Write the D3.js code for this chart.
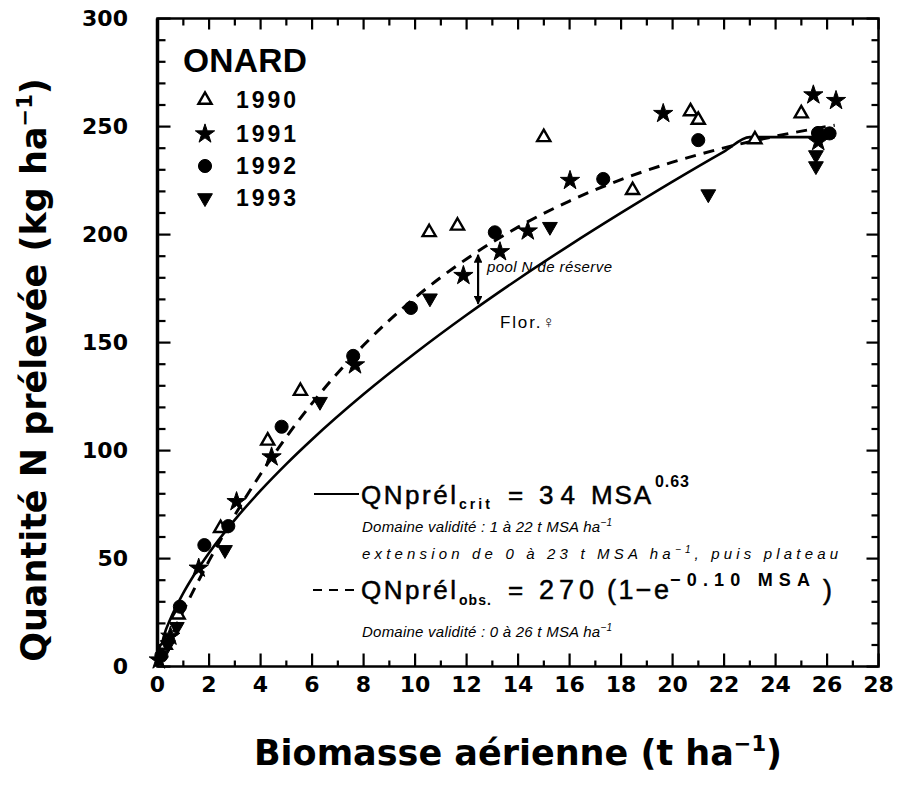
<!DOCTYPE html>
<html><head><meta charset="utf-8">
<script src="https://cdn.jsdelivr.net/npm/d3@7"></script>
<style>
html,body{margin:0;padding:0;background:#fff;}
svg{display:block;}
text{fill:#000;}
</style>
</head><body>
<svg id="chart" width="899" height="787"></svg>
<script>
// ---------- data ----------
const years = ["1990", "1991", "1992", "1993"];
const x1990 = [0.3, 0.8, 2.45, 4.28, 5.55, 10.55, 11.65, 15.0, 18.45, 20.7, 21.0, 23.2, 25.0];
const y1990 = [10, 24, 64, 104.5, 127.5, 201, 204, 245, 220.5, 257, 253, 244, 256];
const x1991 = [0.05, 0.5, 1.6, 3.07, 4.43, 7.67, 11.88, 13.3, 14.38, 16.02, 19.64, 25.47, 26.35, 25.66];
const y1991 = [3, 14, 45.5, 76.3, 97, 139.6, 181, 192, 201.6, 225, 256, 264.6, 262, 243];
const x1992 = [0.15, 0.87, 1.82, 2.75, 4.82, 7.6, 9.84, 13.1, 17.31, 21.0, 25.65, 26.1];
const y1992 = [5, 27.7, 56.2, 65, 111, 143.8, 166, 201, 225.7, 243.7, 247, 246.8];
const x1993 = [0.4, 0.75, 2.62, 6.31, 10.58, 15.24, 21.39, 25.57, 25.57];
const y1993 = [10, 18.4, 54, 122.6, 170.5, 203.6, 218.7, 236.8, 231.7];
const critX = [0, 0.25, 0.5, 1, 1.5, 2, 3, 4, 5, 6, 8, 10, 12, 14, 16, 18, 20, 22, 23, 26.3];
const critY = [0, 14.2, 22.0, 34, 43.9, 52.6, 67.9, 81.4, 93.7, 105.1, 126.0, 145.0, 162.7, 179.3, 195.0, 210.0, 224.5, 238.4, 245.1, 245.1];
const obsX = [0, 0.5, 1, 2, 3, 4, 5, 6, 8, 10, 12, 14, 16, 18, 20, 22, 24, 26.3];
const obsY = [0, 13.2, 25.7, 48.9, 70.0, 89.0, 106.2, 121.8, 148.7, 170.7, 188.7, 203.4, 215.5, 225.4, 233.5, 240.1, 245.5, 250.6];
const xTicks = [0, 2, 4, 6, 8, 10, 12, 14, 16, 18, 20, 22, 24, 26, 28];
const xMinorTicks = [1, 3, 5, 7, 9, 11, 13, 15, 17, 19, 21, 23, 25, 27];
const yTicks = [0, 50, 100, 150, 200, 250, 300];
const yMinorTicks = [10, 20, 30, 40, 60, 70, 80, 90, 110, 120, 130, 140, 160, 170, 180, 190, 210, 220, 230, 240, 260, 270, 280, 290];
// reserve pool arrow
const arrowX = [12.45];
const arrowY = [192, 166.5];

// ---------- layout ----------
const svg = d3.select("#chart");
const X0 = 157.5, X1 = 878.5, Y0 = 666.5, Y1 = 18.5;
const x = d3.scaleLinear().domain([0, 28]).range([X0, X1]);
const y = d3.scaleLinear().domain([0, 300]).range([Y0, Y1]);
const numFont = "'DejaVu Sans', sans-serif";
const arial = "'Liberation Sans', Arial, sans-serif";

function fit(sel, w) {
  const n = sel.text().length;
  const cur = sel.node().getComputedTextLength();
  sel.attr("letter-spacing", Math.max(-1, (w - cur) / Math.max(1, n - 1)));
  return sel;
}

// frame
svg.append("rect").attr("x", X0).attr("y", Y1).attr("width", X1 - X0).attr("height", Y0 - Y1)
  .attr("fill", "none").attr("stroke", "#000").attr("stroke-width", 2.5);
svg.append("rect").attr("x", X0 - 1.75).attr("y", Y1).attr("width", 3.5).attr("height", Y0 - Y1).attr("fill", "#000");

// inward tick marks on all four sides, as small filled bars placed by the scales
const tickG = svg.append("g");
function ticksX(vals, yTop, len) {
  tickG.append("g").selectAll("rect").data(vals).join("rect")
    .attr("x", d => x(d) - 1).attr("width", 2.2)
    .attr("y", yTop).attr("height", len).attr("fill", "#000");
}
function ticksY(vals, xLeft, len) {
  tickG.append("g").selectAll("rect").data(vals).join("rect")
    .attr("y", d => y(d) - 1).attr("height", 2.2)
    .attr("x", xLeft).attr("width", len).attr("fill", "#000");
}
ticksX(xTicks, Y0 - 13, 13); ticksX(xMinorTicks, Y0 - 6, 6);
ticksX(xTicks, Y1, 11); ticksX(xMinorTicks, Y1, 7);
ticksY(yTicks, X0, 13); ticksY(yMinorTicks, X0, 8);
ticksY(yTicks, X1 - 12, 12); ticksY(yMinorTicks, X1 - 7, 7);

// tick labels
svg.append("g").selectAll("text").data(xTicks).join("text")
  .attr("x", d => x(d)).attr("y", Y0 + 25).attr("text-anchor", "middle")
  .attr("font-family", numFont).attr("font-weight", "bold").attr("font-size", 22).text(d => d);
svg.append("g").selectAll("text").data(yTicks).join("text")
  .attr("x", 128).attr("y", d => y(d)).attr("dy", "0.36em").attr("text-anchor", "end")
  .attr("font-family", numFont).attr("font-weight", "bold").attr("font-size", 22).text(d => d);

// axis titles
const xt = svg.append("text").attr("x", 518).attr("y", 765).attr("text-anchor", "middle")
  .attr("font-family", numFont).attr("font-weight", "bold").attr("font-size", 35);
xt.append("tspan").text("Biomasse aérienne (t ha");
xt.append("tspan").text("−1").attr("font-size", 21).attr("dy", -14);
xt.append("tspan").text(")").attr("dy", 14);

const yt = svg.append("text").attr("transform", "translate(46,370) rotate(-90)").attr("text-anchor", "middle")
  .attr("font-family", numFont).attr("font-weight", "bold").attr("font-size", 35);
yt.append("tspan").text("Quantité N prélevée (kg ha");
yt.append("tspan").text("−1").attr("font-size", 21).attr("dy", -14);
yt.append("tspan").text(")").attr("dy", 14);

// curves
const line = d3.line().x(d => x(d[0])).y(d => y(d[1])).curve(d3.curveMonotoneX);
svg.append("path").datum(critX.map((v, i) => [v, critY[i]])).attr("d", line)
  .attr("fill", "none").attr("stroke", "#000").attr("stroke-width", 2.6);
svg.append("path").datum(obsX.map((v, i) => [v, obsY[i]])).attr("d", line)
  .attr("fill", "none").attr("stroke", "#000").attr("stroke-width", 3).attr("stroke-dasharray", "11,8");

// markers
const sym = {
  "1990": { type: d3.symbolTriangle, size: 75, fill: "#fff", rot: 0 },
  "1991": { type: d3.symbolStar, size: 115, fill: "#000", rot: 0 },
  "1992": { type: d3.symbolCircle, size: 135, fill: "#000", rot: 0 },
  "1993": { type: d3.symbolTriangle, size: 95, fill: "#000", rot: 180 }
};
const seriesX = { "1990": x1990, "1991": x1991, "1992": x1992, "1993": x1993 };
const seriesY = { "1990": y1990, "1991": y1991, "1992": y1992, "1993": y1993 };
function drawSym(g, yr, px, py) {
  const s = sym[yr];
  g.append("path").attr("d", d3.symbol().type(s.type).size(s.size)())
    .attr("transform", `translate(${px},${py}) rotate(${s.rot})`)
    .attr("fill", s.fill).attr("stroke", "#000").attr("stroke-width", yr === "1990" ? 2.4 : 1);
}
const mg = svg.append("g");
years.forEach(yr => {
  seriesX[yr].forEach((v, i) => drawSym(mg, yr, x(v), y(seriesY[yr][i])));
});

// legend
fit(svg.append("text").attr("x", 183).attr("y", 72).attr("font-family", arial).attr("font-weight", "bold")
  .attr("font-size", 33.5).text("ONARD"), 124);
const legY = [100, 134, 166, 198];
years.forEach((yr, i) => {
  drawSym(svg, yr, 205, legY[i]);
  fit(svg.append("text").attr("x", 236).attr("y", legY[i] + 8).attr("font-family", arial)
    .attr("font-weight", "bold").attr("font-size", 23).text(yr), 60);
});

// arrow for reserve pool
const defs = svg.append("defs");
defs.append("marker").attr("id", "ah").attr("viewBox", "0 0 10 10").attr("refX", 9).attr("refY", 5)
  .attr("markerWidth", 4).attr("markerHeight", 4).attr("orient", "auto-start-reverse")
  .append("path").attr("d", "M0,0 L10,5 L0,10 z").attr("fill", "#000");
svg.append("line").attr("x1", x(arrowX[0])).attr("x2", x(arrowX[0]))
  .attr("y1", y(arrowY[0]) + 3).attr("y2", y(arrowY[1]) - 3)
  .attr("stroke", "#000").attr("stroke-width", 2.2)
  .attr("marker-start", "url(#ah)").attr("marker-end", "url(#ah)");

fit(svg.append("text").attr("x", 487).attr("y", 272).attr("font-family", arial).attr("font-style", "italic")
  .attr("font-size", 15).text("pool N de réserve"), 125);
fit(svg.append("text").attr("x", 500).attr("y", 328).attr("font-family", arial)
  .attr("font-size", 17).text("Flor.♀"), 55);

// equations (pieces placed left to right)
function piece(txt, px, py, fs, w, opts) {
  const t = svg.append("text").attr("x", px).attr("y", py).attr("font-family", arial)
    .attr("font-size", fs).attr("stroke", "#000").attr("stroke-width", 0.5).text(txt);
  if (opts && opts.bold) t.attr("font-weight", "bold").attr("stroke-width", 0);
  if (w) fit(t, w);
  return t;
}
piece("QNprél", 361, 504, 26, 95);
piece("crit", 459, 509, 14, 31, { bold: true });
piece("=", 508, 504, 26, 18);
piece("34", 539, 504, 26, 36);
piece("MSA", 591, 504, 26, 60);
piece("0.63", 655, 487, 16, 34, { bold: true });

piece("QNprél", 361, 599, 26, 95);
piece("obs.", 459, 605, 14, 32, { bold: true });
piece("=", 508, 599, 26, 18);
piece("270", 539, 599, 27, 55);
piece("(1−e", 607, 599, 27, 62);
piece("−0.10 MSA", 670, 586, 18, 140, { bold: true });
piece(")", 823, 599, 27, 10);

function smallText(yb, main, tail, w) {
  const t = svg.append("text").attr("x", 362).attr("y", yb).attr("font-family", arial)
    .attr("font-style", "italic").attr("font-size", 15);
  t.append("tspan").text(main);
  t.append("tspan").text("−1").attr("font-size", 10).attr("dy", -6);
  if (tail) t.append("tspan").text(tail).attr("dy", 6);
  fit(t, w);
}
smallText(532, "Domaine validité : 1 à 22 t MSA ha", null, 250);
smallText(559, "extension de 0 à 23 t MSA ha", ", puis plateau", 476);
smallText(637, "Domaine validité : 0 à 26 t MSA ha", null, 250);

// legend line samples
svg.append("line").attr("x1", 314).attr("x2", 359).attr("y1", 494).attr("y2", 494)
  .attr("stroke", "#000").attr("stroke-width", 2.2);
svg.append("line").attr("x1", 313).attr("x2", 359).attr("y1", 590).attr("y2", 590)
  .attr("stroke", "#000").attr("stroke-width", 2.2).attr("stroke-dasharray", "9,7");
</script>
</body></html>
